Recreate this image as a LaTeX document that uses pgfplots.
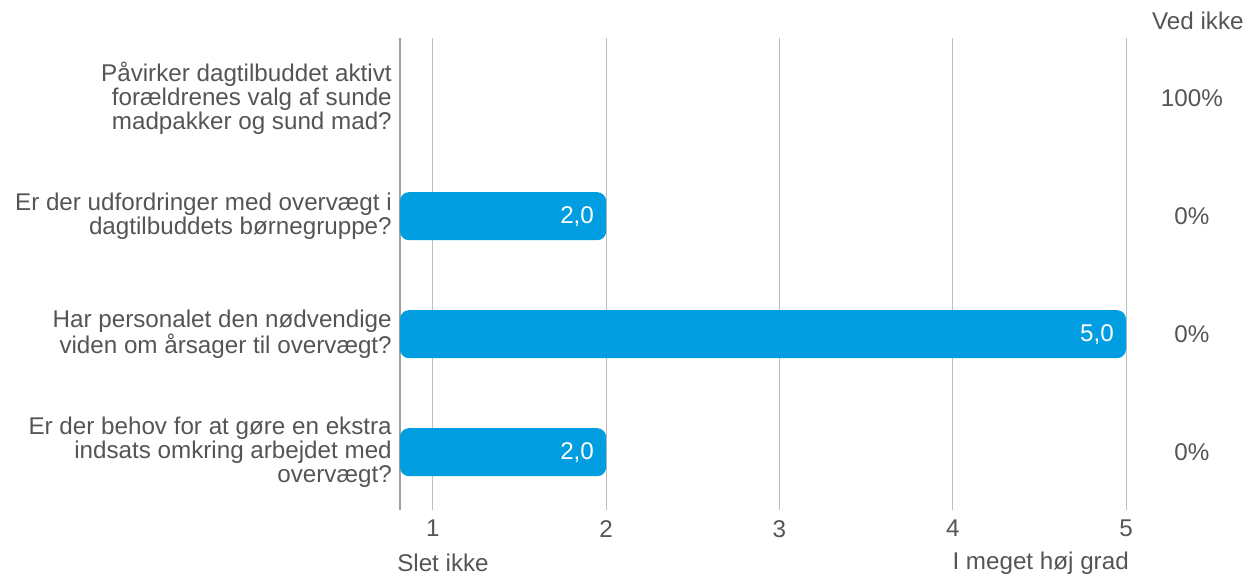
\documentclass[border=0pt]{standalone}
\usepackage{pgfplots}
\pgfplotsset{compat=1.18}
\usepackage{fontspec}
\setmainfont{Liberation Sans}
\definecolor{barblue}{RGB}{0,158,224}
\definecolor{txt}{RGB}{85,85,85}
\definecolor{gridc}{RGB}{190,190,190}
\definecolor{axc}{RGB}{160,160,160}
\newcommand{\fs}{\fontsize{24.2}{24}\selectfont}
\begin{document}
\fs
\begin{tikzpicture}[x=1pt,y=1pt]
\useasboundingbox (0,0) rectangle (1245,575);
\begin{axis}[
  at={(400pt,65pt)}, anchor=south west,
  scale only axis, width=726pt, height=472pt,
  xmin=0.81, xmax=5,
  ymin=-0.51, ymax=3.49, y dir=reverse,
  xtick={1,2,3,4,5},
  ytick={0,1,2,3},
  yticklabels={
    {Påvirker dagtilbuddet aktivt\\forældrenes valg af sunde\\madpakker og sund mad?},
    {Er der udfordringer med overvægt i\\dagtilbuddets børnegruppe?},
    {Har personalet den nødvendige\\viden om årsager til overvægt?},
    {Er der behov for at gøre en ekstra\\indsats omkring arbejdet med\\overvægt?}},
  yticklabel style={align=right, font=\fs, text=txt, xshift=0pt},
  xticklabel style={font=\fs, text=txt, yshift=-2pt},
  /pgf/number format/assume math mode=true,
  tick style={draw=none},
  xmajorgrids, grid style={gridc, line width=1pt},
  axis line style={draw=none},
  extra x ticks={0.81}, extra x tick labels={},
  extra x tick style={grid style={axc, line width=2pt}},
  ]
  \addplot[xbar, bar width=48pt, fill=barblue, draw=none, rounded corners=9pt,
    nodes near coords,
    point meta=x,
    nodes near coords style={anchor=east, text=white, font=\fs, xshift=-4pt,
      /pgf/number format/.cd, fixed, fixed zerofill, precision=1, use comma}]
    coordinates {(2,1) (5,2) (2,3)};
  \coordinate (p0) at (axis cs:5.38,0);
  \coordinate (p1) at (axis cs:5.38,1);
  \coordinate (p2) at (axis cs:5.38,2);
  \coordinate (p3) at (axis cs:5.38,3);
  \coordinate (vi) at (axis cs:5.415,-0.51);
  \coordinate (bl) at (rel axis cs:0,0);
  \coordinate (br) at (rel axis cs:1,0);
\end{axis}
  \node[text=txt, anchor=center] at (p0) {100\%};
  \node[text=txt, anchor=center] at (p1) {0\%};
  \node[text=txt, anchor=center] at (p2) {0\%};
  \node[text=txt, anchor=center] at (p3) {0\%};
  \node[text=txt, anchor=center, yshift=17pt] at (vi) {Ved ikke};
  \node[text=txt, anchor=center, yshift=-53pt, anchor=west, xshift=-11pt] at (bl) {Slet ikke};
  \node[text=txt, anchor=center, yshift=-53pt, anchor=east, xshift=11pt] at (br) {I meget høj grad};
\end{tikzpicture}
\end{document}
